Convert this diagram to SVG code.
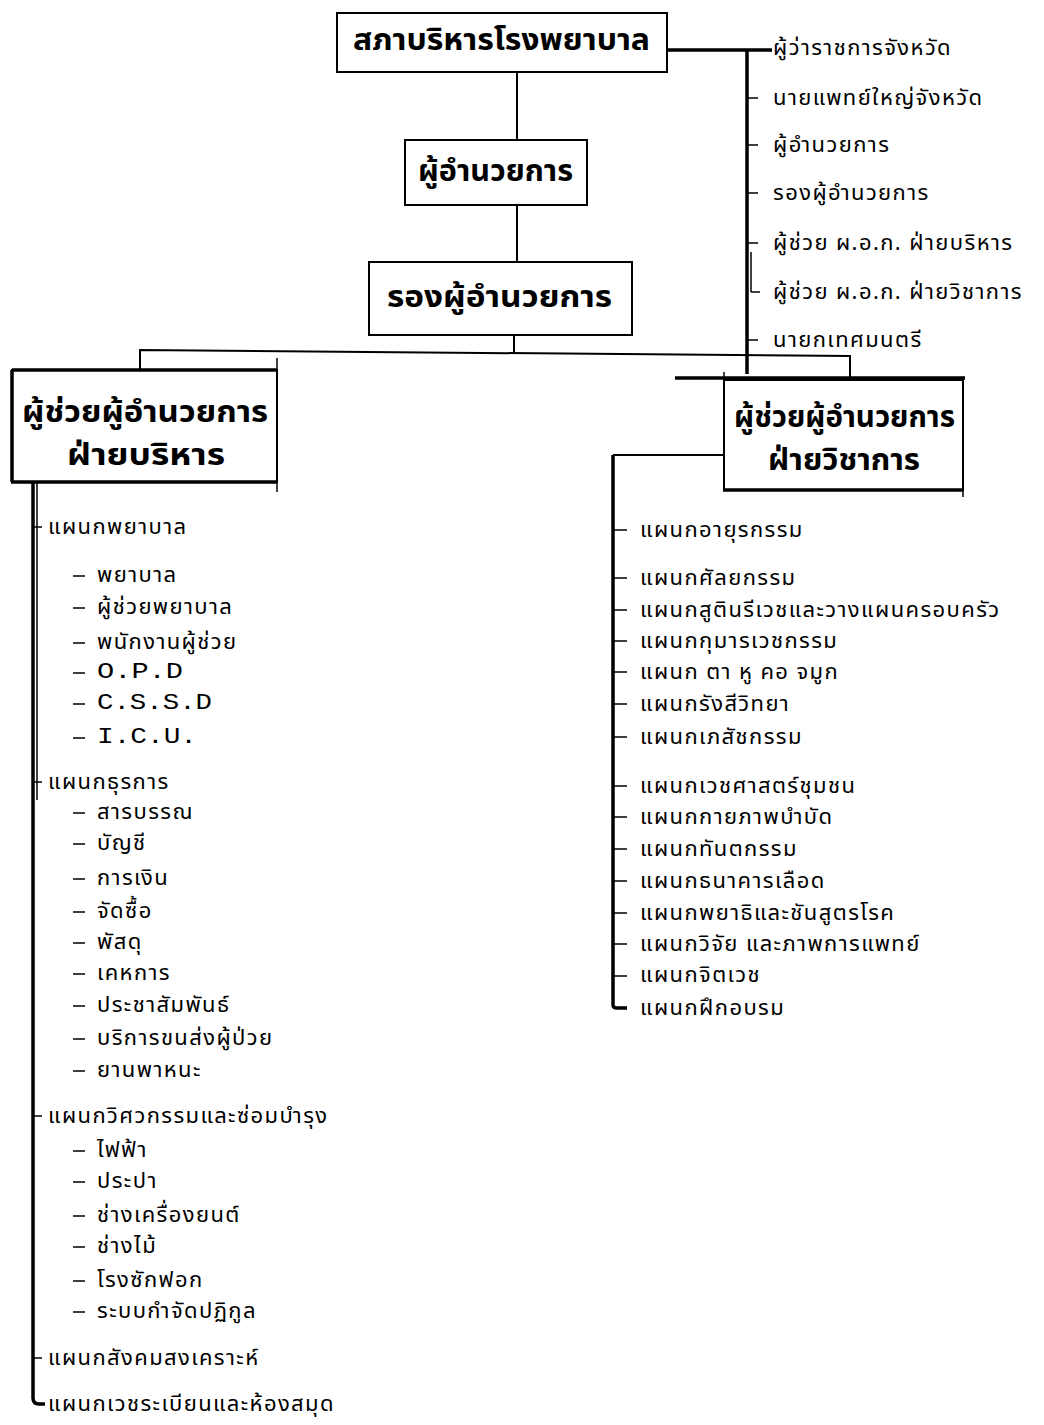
<svg xmlns="http://www.w3.org/2000/svg" width="1044" height="1425" viewBox="0 0 1044 1425">
<style>
.bg{fill:#fff}
.box{fill:#fff;stroke:#000;stroke-width:2}
.thk{stroke:#000;stroke-width:3.5;fill:none}
.ln{stroke:#000;stroke-width:2;fill:none}
.tn{stroke:#000;stroke-width:1.5;fill:none}
.bt{font-family:"Noto Sans Thai","Noto Sans",sans-serif;font-weight:bold;font-size:30px;fill:#000;dominant-baseline:central}
.it{font-family:"Noto Sans Thai","Noto Sans",sans-serif;font-size:22px;letter-spacing:1.4px;fill:#000;dominant-baseline:central}
.lt{font-family:"Liberation Mono",monospace;font-size:22px;fill:#000;dominant-baseline:central}
</style>
<rect class="bg" x="0" y="0" width="1044" height="1425"/>
<g id="connectors">
<line class="ln" x1="517" y1="72" x2="517" y2="140"/>
<line class="ln" x1="517" y1="205" x2="517" y2="262"/>
<line class="ln" x1="514" y1="335" x2="514" y2="352"/>
<path class="ln" d="M140,372 V350 L850,356 V378"/>
<line class="thk" x1="667" y1="50" x2="772" y2="50"/>
<line class="thk" x1="747" y1="50" x2="747" y2="374"/>
<line class="tn" x1="751" y1="252" x2="751" y2="292"/>
<line class="tn" x1="751" y1="292" x2="760" y2="292"/>
<g class="tn">
<line x1="747" y1="98" x2="758" y2="98"/>
<line x1="747" y1="145" x2="758" y2="145"/>
<line x1="747" y1="193" x2="758" y2="193"/>
<line x1="747" y1="243" x2="758" y2="243"/>
<line x1="747" y1="340" x2="758" y2="340"/>
</g>
<line class="ln" x1="724" y1="455" x2="613" y2="455"/>
<path class="thk" d="M613,455 V1005 Q613,1008 617,1008 H627" stroke-width="3"/>
<g class="tn">
<line x1="613" y1="530" x2="627" y2="530"/>
<line x1="613" y1="578" x2="627" y2="578"/>
<line x1="613" y1="610" x2="627" y2="610"/>
<line x1="613" y1="641" x2="627" y2="641"/>
<line x1="613" y1="672" x2="627" y2="672"/>
<line x1="613" y1="704" x2="627" y2="704"/>
<line x1="613" y1="737" x2="627" y2="737"/>
<line x1="613" y1="786" x2="627" y2="786"/>
<line x1="613" y1="817" x2="627" y2="817"/>
<line x1="613" y1="849" x2="627" y2="849"/>
<line x1="613" y1="881" x2="627" y2="881"/>
<line x1="613" y1="913" x2="627" y2="913"/>
<line x1="613" y1="944" x2="627" y2="944"/>
<line x1="613" y1="976" x2="627" y2="976"/>
</g>
<path class="thk" d="M33,482 V1398 Q33,1404 39,1404 H45" stroke-width="3"/>
<line class="tn" x1="37" y1="482" x2="37" y2="800"/>
<g class="tn">
<line x1="33" y1="527" x2="42" y2="527"/>
<line x1="33" y1="782" x2="42" y2="782"/>
<line x1="33" y1="1116" x2="42" y2="1116"/>
<line x1="33" y1="1358" x2="42" y2="1358"/>
</g>
<g id="dashes" class="tn">
<line x1="73" y1="576" x2="85" y2="576"/>
<line x1="73" y1="608" x2="85" y2="608"/>
<line x1="73" y1="643" x2="85" y2="643"/>
<line x1="73" y1="673" x2="85" y2="673"/>
<line x1="73" y1="704" x2="85" y2="704"/>
<line x1="73" y1="738" x2="85" y2="738"/>
<line x1="73" y1="813" x2="85" y2="813"/>
<line x1="73" y1="844" x2="85" y2="844"/>
<line x1="73" y1="879" x2="85" y2="879"/>
<line x1="73" y1="912" x2="85" y2="912"/>
<line x1="73" y1="943" x2="85" y2="943"/>
<line x1="73" y1="974" x2="85" y2="974"/>
<line x1="73" y1="1006" x2="85" y2="1006"/>
<line x1="73" y1="1039" x2="85" y2="1039"/>
<line x1="73" y1="1071" x2="85" y2="1071"/>
<line x1="73" y1="1151" x2="85" y2="1151"/>
<line x1="73" y1="1182" x2="85" y2="1182"/>
<line x1="73" y1="1216" x2="85" y2="1216"/>
<line x1="73" y1="1247" x2="85" y2="1247"/>
<line x1="73" y1="1281" x2="85" y2="1281"/>
<line x1="73" y1="1312" x2="85" y2="1312"/>
</g>
</g>
<g id="n_board">
<rect class="box" x="337" y="13" width="330" height="59"/>
<text class="bt" x="353" y="41" textLength="297" lengthAdjust="spacingAndGlyphs">สภาบริหารโรงพยาบาล</text>
</g>
<g id="n_director">
<rect class="box" x="405" y="140" width="182" height="65"/>
<text class="bt" x="418" y="172" textLength="155" lengthAdjust="spacingAndGlyphs">ผู้อำนวยการ</text>
</g>
<g id="n_deputy">
<rect class="box" x="369" y="262" width="263" height="73"/>
<text class="bt" x="387" y="298" textLength="225" lengthAdjust="spacingAndGlyphs">รองผู้อำนวยการ</text>
</g>
<g id="n_admin">
<rect class="box" x="12" y="370" width="265" height="112"/>
<line class="thk" x1="12" y1="370" x2="277" y2="370"/>
<line class="thk" x1="12" y1="370" x2="12" y2="482"/>
<line class="thk" x1="11" y1="482" x2="277" y2="482"/>
<line class="tn" x1="277" y1="358" x2="277" y2="492"/>
<text class="bt" x="22" y="413" textLength="246" lengthAdjust="spacingAndGlyphs">ผู้ช่วยผู้อำนวยการ</text>
<text class="bt" x="67" y="456" textLength="158" lengthAdjust="spacingAndGlyphs">ฝ่ายบริหาร</text>
</g>
<g id="n_academic">
<rect class="box" x="724" y="380" width="239" height="110"/>
<line class="thk" x1="675" y1="378" x2="965" y2="378"/>
<line class="tn" x1="724" y1="372" x2="724" y2="490"/>
<line class="thk" x1="723" y1="490" x2="963" y2="490"/>
<line class="tn" x1="963" y1="380" x2="963" y2="497"/>
<text class="bt" x="734" y="418" textLength="221" lengthAdjust="spacingAndGlyphs">ผู้ช่วยผู้อำนวยการ</text>
<text class="bt" x="768" y="461" textLength="152" lengthAdjust="spacingAndGlyphs">ฝ่ายวิชาการ</text>
</g>
<g id="n_committee">
<text class="it" x="773" y="48">ผู้ว่าราชการจังหวัด</text>
<text class="it" x="773" y="98">นายแพทย์ใหญ่จังหวัด</text>
<text class="it" x="773" y="145">ผู้อำนวยการ</text>
<text class="it" x="773" y="193">รองผู้อำนวยการ</text>
<text class="it" x="773" y="243">ผู้ช่วย ผ.อ.ก. ฝ่ายบริหาร</text>
<text class="it" x="773" y="292">ผู้ช่วย ผ.อ.ก. ฝ่ายวิชาการ</text>
<text class="it" x="773" y="340">นายกเทศมนตรี</text>
</g>
<g id="n_admin_units">
<text class="it" x="48" y="527">แผนกพยาบาล</text>
<text class="it" x="97" y="575">พยาบาล</text>
<text class="it" x="97" y="607">ผู้ช่วยพยาบาล</text>
<text class="it" x="97" y="642">พนักงานผู้ช่วย</text>
<text class="lt" x="97" y="672" textLength="86" lengthAdjust="spacingAndGlyphs">O.P.D</text>
<text class="lt" x="97" y="703" textLength="115" lengthAdjust="spacingAndGlyphs">C.S.S.D</text>
<text class="lt" x="97" y="737" textLength="100" lengthAdjust="spacingAndGlyphs">I.C.U.</text>
<text class="it" x="48" y="782">แผนกธุรการ</text>
<text class="it" x="97" y="812">สารบรรณ</text>
<text class="it" x="97" y="843">บัญชี</text>
<text class="it" x="97" y="878">การเงิน</text>
<text class="it" x="97" y="911">จัดซื้อ</text>
<text class="it" x="97" y="942">พัสดุ</text>
<text class="it" x="97" y="973">เคหการ</text>
<text class="it" x="97" y="1005">ประชาสัมพันธ์</text>
<text class="it" x="97" y="1038">บริการขนส่งผู้ป่วย</text>
<text class="it" x="97" y="1070">ยานพาหนะ</text>
<text class="it" x="48" y="1116">แผนกวิศวกรรมและซ่อมบำรุง</text>
<text class="it" x="97" y="1150">ไฟฟ้า</text>
<text class="it" x="97" y="1181">ประปา</text>
<text class="it" x="97" y="1215">ช่างเครื่องยนต์</text>
<text class="it" x="97" y="1246">ช่างไม้</text>
<text class="it" x="97" y="1280">โรงซักฟอก</text>
<text class="it" x="97" y="1311">ระบบกำจัดปฏิกูล</text>
<text class="it" x="48" y="1358">แผนกสังคมสงเคราะห์</text>
<text class="it" x="48" y="1404">แผนกเวชระเบียนและห้องสมุด</text>
</g>
<g id="n_academic_units">
<text class="it" x="640" y="530">แผนกอายุรกรรม</text>
<text class="it" x="640" y="578">แผนกศัลยกรรม</text>
<text class="it" x="640" y="610">แผนกสูตินรีเวชและวางแผนครอบครัว</text>
<text class="it" x="640" y="641">แผนกกุมารเวชกรรม</text>
<text class="it" x="640" y="672">แผนก ตา หู คอ จมูก</text>
<text class="it" x="640" y="704">แผนกรังสีวิทยา</text>
<text class="it" x="640" y="737">แผนกเภสัชกรรม</text>
<text class="it" x="640" y="786">แผนกเวชศาสตร์ชุมชน</text>
<text class="it" x="640" y="817">แผนกกายภาพบำบัด</text>
<text class="it" x="640" y="849">แผนกทันตกรรม</text>
<text class="it" x="640" y="881">แผนกธนาคารเลือด</text>
<text class="it" x="640" y="913">แผนกพยาธิและชันสูตรโรค</text>
<text class="it" x="640" y="944">แผนกวิจัย และภาพการแพทย์</text>
<text class="it" x="640" y="975">แผนกจิตเวช</text>
<text class="it" x="640" y="1008">แผนกฝึกอบรม</text>
</g>
</svg>
